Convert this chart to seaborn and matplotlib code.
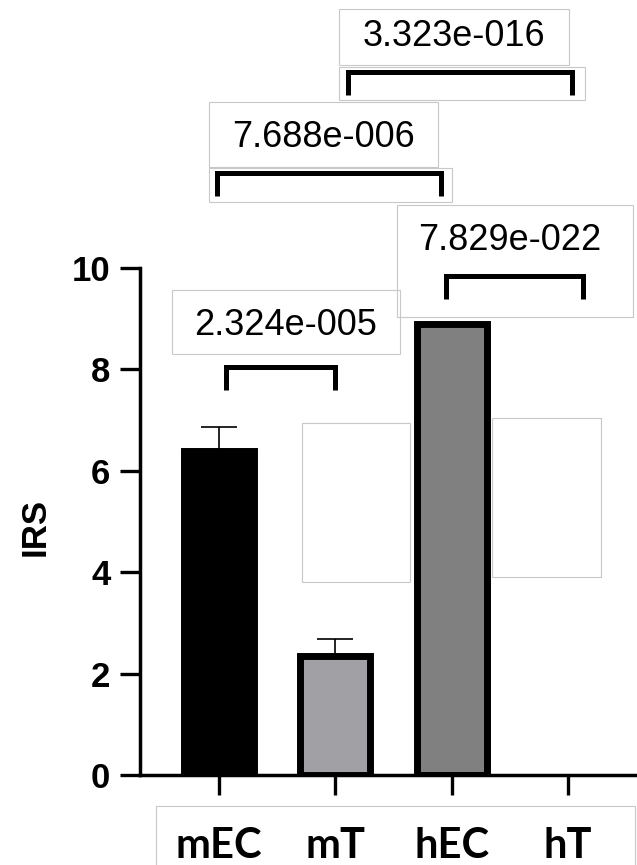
import numpy as np
import pandas as pd
import seaborn as sns
import matplotlib.pyplot as plt
from matplotlib.patches import Rectangle

# data
groups = ['mEC', 'mT', 'hEC', 'hT']
irs = [6.4, 2.35, 8.9, 0.0]
irs_err = [0.46, 0.33, 0.0, 0.0]
bar_colors = ['#000000', '#a09fa5', '#808080', '#ffffff']

# significance brackets: (left group, right group, height, p label)
pairs = [('mEC', 'mT', 8.05, '2.324e-005'),
         ('hEC', 'hT', 9.84, '7.829e-022'),
         ('mEC', 'hEC', 11.87, '7.688e-006'),
         ('mT', 'hT', 13.87, '3.323e-016')]

sns.set_style('ticks', {'axes.edgecolor': 'black', 'xtick.color': 'black',
                        'ytick.color': 'black', 'text.color': 'black',
                        'axes.labelcolor': 'black'})
plt.rcParams['font.family'] = ['Liberation Sans', 'DejaVu Sans']

W, H = 637, 865
fig = plt.figure(figsize=(W / 100, H / 100), dpi=100)
ax = fig.add_axes([140 / W, 1 - 775 / H, (W - 140) / W, (775 - 268) / H])

df = pd.DataFrame({'group': groups, 'irs': irs})
sns.barplot(data=df, x='group', y='irs', hue='group', palette=dict(zip(groups, bar_colors)),
            width=0.6, edgecolor='black', linewidth=5, errorbar=None, legend=False,
            ax=ax, zorder=3)
ax.patches[3].set_linewidth(0)

# upper error bars only
ax.errorbar(x=[0, 1], y=irs[:2], yerr=[[0, 0], irs_err[:2]], fmt='none',
            ecolor='black', elinewidth=1.2, capsize=13, capthick=1.2, zorder=2)

ax.set_ylim(0, 10)
ax.set_xlim(-0.675, 3.59)
ax.set_yticks([0, 2, 4, 6, 8, 10])
ax.set_xlabel('')
ax.set_ylabel('IRS', fontsize=25, fontweight='bold')
ax.yaxis.set_label_coords(-0.177, 0.49)

for s in ['top', 'right']:
    ax.spines[s].set_visible(False)
for s in ['left', 'bottom']:
    ax.spines[s].set_linewidth(2.5)
ax.tick_params(axis='both', direction='out', length=14.4, width=2.4, colors='black',
               bottom=True, left=True)
ax.tick_params(axis='y', pad=7)
ax.tick_params(axis='x', pad=23)
for t in ax.get_yticklabels():
    t.set_fontsize(25)
    t.set_fontweight('bold')
for t in ax.get_xticklabels():
    t.set_fontsize(30)
    t.set_fontweight('bold')
    t.set_family(['Lato', 'DejaVu Sans'])

# brackets and p values
pos = {g: i for i, g in enumerate(groups)}
offs = {('mEC', 'mT'): (0.06, 0.0), ('hEC', 'hT'): (-0.05, 0.13),
        ('mEC', 'hEC'): (-0.01, -0.09), ('mT', 'hT'): (0.11, 0.03)}
text_pos = {'2.324e-005': (0.573, 8.68), '7.829e-022': (2.50, 10.36),
            '7.688e-006': (0.90, 12.39), '3.323e-016': (2.02, 14.38)}
for a, b, h, p in pairs:
    x1 = pos[a] + offs[(a, b)][0]
    x2 = pos[b] + offs[(a, b)][1]
    ax.plot([x1, x1, x2, x2], [h - 0.45, h, h, h - 0.45], color='black', lw=3.6,
            solid_joinstyle='miter', solid_capstyle='butt', clip_on=False, zorder=5)
    tx, ty = text_pos[p]
    ax.text(tx, ty, p, fontsize=26, ha='center', va='baseline', color='black', zorder=6)

# light frames left over from the pasted labels (pixel boxes)
frames = [(339, 9, 569, 65), (339, 67, 585, 100), (209, 102, 438, 167),
          (209, 168, 452, 202), (397, 205, 633, 317), (172, 290, 400, 354),
          (302, 423, 410, 582), (492, 418, 601, 577), (156, 806, 635, 870)]
for x0, y0, x1, y1 in frames:
    fig.patches.append(Rectangle((x0 / W, 1 - y1 / H), (x1 - x0) / W, (y1 - y0) / H,
                                 transform=fig.transFigure, fill=False,
                                 edgecolor='#c8c8c8', lw=0.8, zorder=0))

fig.savefig('out.png', dpi=100)
